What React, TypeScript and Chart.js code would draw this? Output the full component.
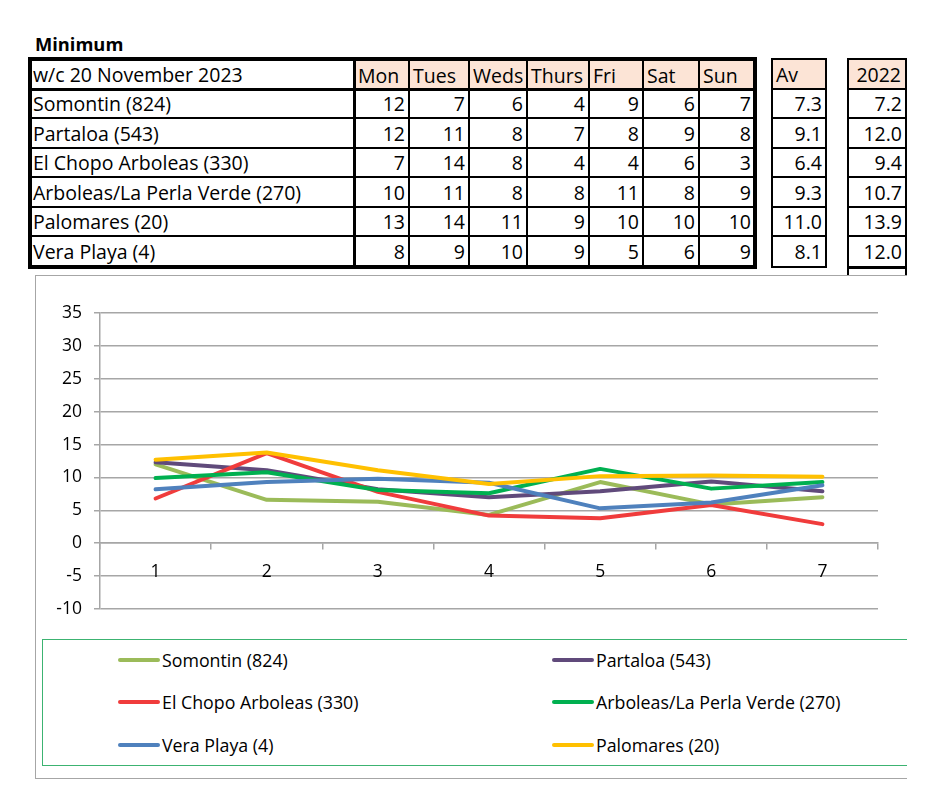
import React, { useEffect, useRef } from "react";
import { Chart, registerables } from "chart.js";

Chart.register(...registerables);

// ---------- table data ----------
const tableTitle = "Minimum";
const weekLabel = "w/c 20 November 2023";
const dayNames = ["Mon", "Tues", "Weds", "Thurs", "Fri", "Sat", "Sun"];
const stationNames = [
  "Somontin (824)",
  "Partaloa (543)",
  "El Chopo Arboleas (330)",
  "Arboleas/La Perla Verde (270)",
  "Palomares (20)",
  "Vera Playa (4)",
];
const somontinRow = [12, 7, 6, 4, 9, 6, 7];
const partaloaRow = [12, 11, 8, 7, 8, 9, 8];
const elChopoRow = [7, 14, 8, 4, 4, 6, 3];
const arboleasRow = [10, 11, 8, 8, 11, 8, 9];
const palomaresRow = [13, 14, 11, 9, 10, 10, 10];
const veraPlayaRow = [8, 9, 10, 9, 5, 6, 9];
const avHeader = "Av";
const averages = ["7.3", "9.1", "6.4", "9.3", "11.0", "8.1"];
const lastYearHeader = "2022";
const lastYear = ["7.2", "12.0", "9.4", "10.7", "13.9", "12.0"];

// ---------- chart data ----------
const chartCategories = ["1", "2", "3", "4", "5", "6", "7"];
const seriesNames = [
  "Somontin (824)",
  "Partaloa (543)",
  "El Chopo Arboleas (330)",
  "Arboleas/La Perla Verde (270)",
  "Vera Playa (4)",
  "Palomares (20)",
];
const somontinMin = [12.0, 6.6, 6.3, 4.3, 9.3, 5.9, 7.0];
const partaloaMin = [12.3, 11.1, 8.2, 7.0, 7.9, 9.4, 7.9];
const elChopoMin = [6.8, 13.7, 7.8, 4.2, 3.8, 5.8, 2.9];
const arboleasMin = [9.9, 10.8, 8.1, 7.6, 11.3, 8.3, 9.3];
const veraPlayaMin = [8.2, 9.3, 9.8, 9.2, 5.3, 6.2, 8.8];
const palomaresMin = [12.7, 13.8, 11.1, 9.0, 10.2, 10.3, 10.1];
const seriesColors = ["#9BBB59", "#604A7B", "#F03C3C", "#00B050", "#4F81BD", "#FFC000"];
const yMin = -10;
const yMax = 35;
const yStep = 5;

const FONT = "'Open Sans', 'Noto Sans', sans-serif";
const PEACH = "#FCE4D6";
const GRID = "#A6A6A6";

type LineSpec = { xs: number[]; ys: number[]; vw: number[]; hw: number[]; vExtend?: number };

function GridLines({ xs, ys, vw, hw, vExtend }: LineSpec) {
  const els: React.ReactNode[] = [];
  const top = ys[0] - hw[0] / 2;
  const bottom = (vExtend ?? ys[ys.length - 1]) + hw[hw.length - 1] / 2;
  xs.forEach((x, i) => {
    els.push(
      <div
        key={"v" + i}
        style={{ position: "absolute", left: x - vw[i] / 2, top, width: vw[i], height: bottom - top, background: "#000" }}
      />
    );
  });
  const left = xs[0] - vw[0] / 2;
  const right = xs[xs.length - 1] + vw[vw.length - 1] / 2;
  ys.forEach((y, i) => {
    els.push(
      <div
        key={"h" + i}
        style={{ position: "absolute", left, top: y - hw[i] / 2, width: right - left, height: hw[i], background: "#000" }}
      />
    );
  });
  return <>{els}</>;
}

function Cell({
  x0, x1, y0, y1, text, align, fill,
}: { x0: number; x1: number; y0: number; y1: number; text: string; align: "left" | "right"; fill?: string }) {
  return (
    <div
      style={{
        position: "absolute",
        left: x0,
        top: y0,
        width: x1 - x0,
        height: y1 - y0,
        background: fill || "transparent",
        display: "flex",
        alignItems: "center",
        justifyContent: align === "left" ? "flex-start" : "flex-end",
        boxSizing: "border-box",
        padding: align === "left" ? "1px 0 0 3px" : "1px 4px 0 0",
        fontFamily: FONT,
        fontSize: 19.5,
        color: "#000",
        whiteSpace: "nowrap",
        lineHeight: 1,
        overflow: "visible",
      }}
    >
      {text}
    </div>
  );
}

function Tables() {
  const mainXs = [30, 354, 409, 469, 527, 589, 643, 699, 755];
  const ys = [59, 89, 118, 148, 177, 207, 236, 267];
  const rows = [somontinRow, partaloaRow, elChopoRow, arboleasRow, palomaresRow, veraPlayaRow];
  const cells: React.ReactNode[] = [];
  cells.push(<Cell key="wc" x0={mainXs[0]} x1={mainXs[1]} y0={ys[0]} y1={ys[1]} text={weekLabel} align="left" />);
  dayNames.forEach((d, i) => {
    cells.push(
      <Cell key={"d" + i} x0={mainXs[i + 1] + 1} x1={mainXs[i + 2]} y0={ys[0] + 2} y1={ys[1]} text={d} align="left" fill={PEACH} />
    );
  });
  rows.forEach((row, r) => {
    cells.push(
      <Cell key={"s" + r} x0={mainXs[0]} x1={mainXs[1]} y0={ys[r + 1]} y1={ys[r + 2]} text={stationNames[r]} align="left" />
    );
    row.forEach((v, c) => {
      cells.push(
        <Cell key={"c" + r + "-" + c} x0={mainXs[c + 1]} x1={mainXs[c + 2]} y0={ys[r + 1]} y1={ys[r + 2]} text={String(v)} align="right" />
      );
    });
  });
  const avXs = [772, 826];
  const lyXs = [848, 906];
  cells.push(<Cell key="avh" x0={avXs[0] + 1} x1={avXs[1] - 1} y0={ys[0] + 1} y1={ys[1]} text={avHeader} align="left" fill={PEACH} />);
  cells.push(<Cell key="lyh" x0={lyXs[0] + 1} x1={lyXs[1] - 1} y0={ys[0] + 1} y1={ys[1]} text={lastYearHeader} align="right" fill={PEACH} />);
  averages.forEach((a, r) => {
    cells.push(<Cell key={"a" + r} x0={avXs[0]} x1={avXs[1]} y0={ys[r + 1]} y1={ys[r + 2]} text={a} align="right" />);
  });
  lastYear.forEach((a, r) => {
    cells.push(<Cell key={"l" + r} x0={lyXs[0]} x1={lyXs[1]} y0={ys[r + 1]} y1={ys[r + 2]} text={a} align="right" />);
  });
  return (
    <>
      <div
        style={{
          position: "absolute",
          left: 35,
          top: 32,
          fontFamily: FONT,
          fontWeight: 700,
          fontSize: 18.3,
          lineHeight: "24px",
          color: "#000",
        }}
      >
        {tableTitle}
      </div>
      {cells}
      <GridLines xs={mainXs} ys={ys} vw={[4, 3, 2, 2, 2, 2, 2, 2, 4]} hw={[4, 3, 2, 2, 2, 2, 2, 4]} />
      <GridLines xs={avXs} ys={ys} vw={[2, 2]} hw={[2, 2, 2, 2, 2, 2, 2, 2]} />
      <GridLines xs={lyXs} ys={ys} vw={[2, 2]} hw={[2, 2, 2, 2, 2, 2, 2, 3]} vExtend={274} />
    </>
  );
}

function LineChart() {
  const ref = useRef<HTMLCanvasElement | null>(null);
  useEffect(() => {
    if (!ref.current) return;
    const seriesValues = [somontinMin, partaloaMin, elChopoMin, arboleasMin, veraPlayaMin, palomaresMin];
    const chart = new Chart(ref.current, {
      type: "line",
      data: {
        labels: chartCategories,
        datasets: seriesNames.map((name, i) => ({
          label: name,
          data: seriesValues[i],
          borderColor: seriesColors[i],
          backgroundColor: seriesColors[i],
          borderWidth: 4,
          pointRadius: 0,
          pointHoverRadius: 0,
          tension: 0,
          fill: false,
          borderCapStyle: "round" as const,
          borderJoinStyle: "round" as const,
          order: seriesNames.length - i,
        })),
      },
      options: {
        animation: false,
        responsive: false,
        events: [],
        layout: { padding: { left: 0, right: 28, top: 36, bottom: 30 } },
        plugins: {
          legend: { display: false },
          tooltip: { enabled: false },
          title: { display: false },
        },
        scales: {
          x: {
            type: "category",
            position: { y: 0 } as any,
            offset: true,
            afterFit: (scale: any) => {
              scale.height = 0;
            },
            grid: {
              drawOnChartArea: false,
              drawTicks: true,
              tickLength: 6,
              offset: true,
              color: GRID,
              lineWidth: 1.5,
            },
            border: { display: true, color: GRID, width: 1.5 },
            ticks: {
              color: "#000",
              font: { family: FONT, size: 17.5 },
              padding: 12,
              maxRotation: 0,
            },
          },
          y: {
            min: yMin,
            max: yMax,
            afterFit: (scale: any) => {
              scale.width = 64;
            },
            grid: {
              color: GRID,
              lineWidth: 1.5,
              drawTicks: true,
              tickLength: 6,
            },
            border: { display: true, color: GRID, width: 1.5 },
            ticks: {
              stepSize: yStep,
              color: "#000",
              font: { family: FONT, size: 17.5 },
              padding: 12,
            },
          },
        },
      },
    });
    return () => chart.destroy();
  }, []);
  return (
    <canvas
      ref={ref}
      width={870}
      height={362}
      style={{ position: "absolute", left: 36, top: 277, width: 870, height: 362 }}
    />
  );
}

function Legend() {
  const items = seriesNames.map((name, i) => {
    const col = i % 2;
    const row = Math.floor(i / 2);
    const x = col === 0 ? 118 : 552;
    const y = [660, 702, 745][row];
    return (
      <div key={name}>
        <div
          style={{
            position: "absolute",
            left: x,
            top: y - 2,
            width: 42,
            height: 4,
            borderRadius: 2,
            background: seriesColors[i],
          }}
        />
        <div
          style={{
            position: "absolute",
            left: x + 44,
            top: y - 12,
            height: 24,
            lineHeight: "24px",
            fontFamily: FONT,
            fontSize: 17.8,
            color: "#000",
            whiteSpace: "nowrap",
          }}
        >
          {name}
        </div>
      </div>
    );
  });
  return (
    <>
      <div
        style={{
          position: "absolute",
          left: 42,
          top: 639,
          width: 900,
          height: 127,
          boxSizing: "border-box",
          borderTop: "1.5px solid #3CB371",
          borderLeft: "1.5px solid #3CB371",
          borderBottom: "1.5px solid #3CB371",
        }}
      />
      {items}
    </>
  );
}

export default function App() {
  return (
    <div style={{ position: "absolute", left: 0, top: 0, width: 949, height: 800, overflow: "hidden", background: "#fff" }}>
      <Tables />
      <div
        style={{
          position: "absolute",
          left: 35,
          top: 275,
          width: 920,
          height: 504,
          boxSizing: "border-box",
          borderTop: "1.5px solid #A6A6A6",
          borderLeft: "1.5px solid #A6A6A6",
          borderBottom: "1.5px solid #A6A6A6",
        }}
      />
      <LineChart />
      <Legend />
      <div style={{ position: "absolute", left: 907, top: 270, width: 42, height: 530, background: "#fff" }} />
    </div>
  );
}
